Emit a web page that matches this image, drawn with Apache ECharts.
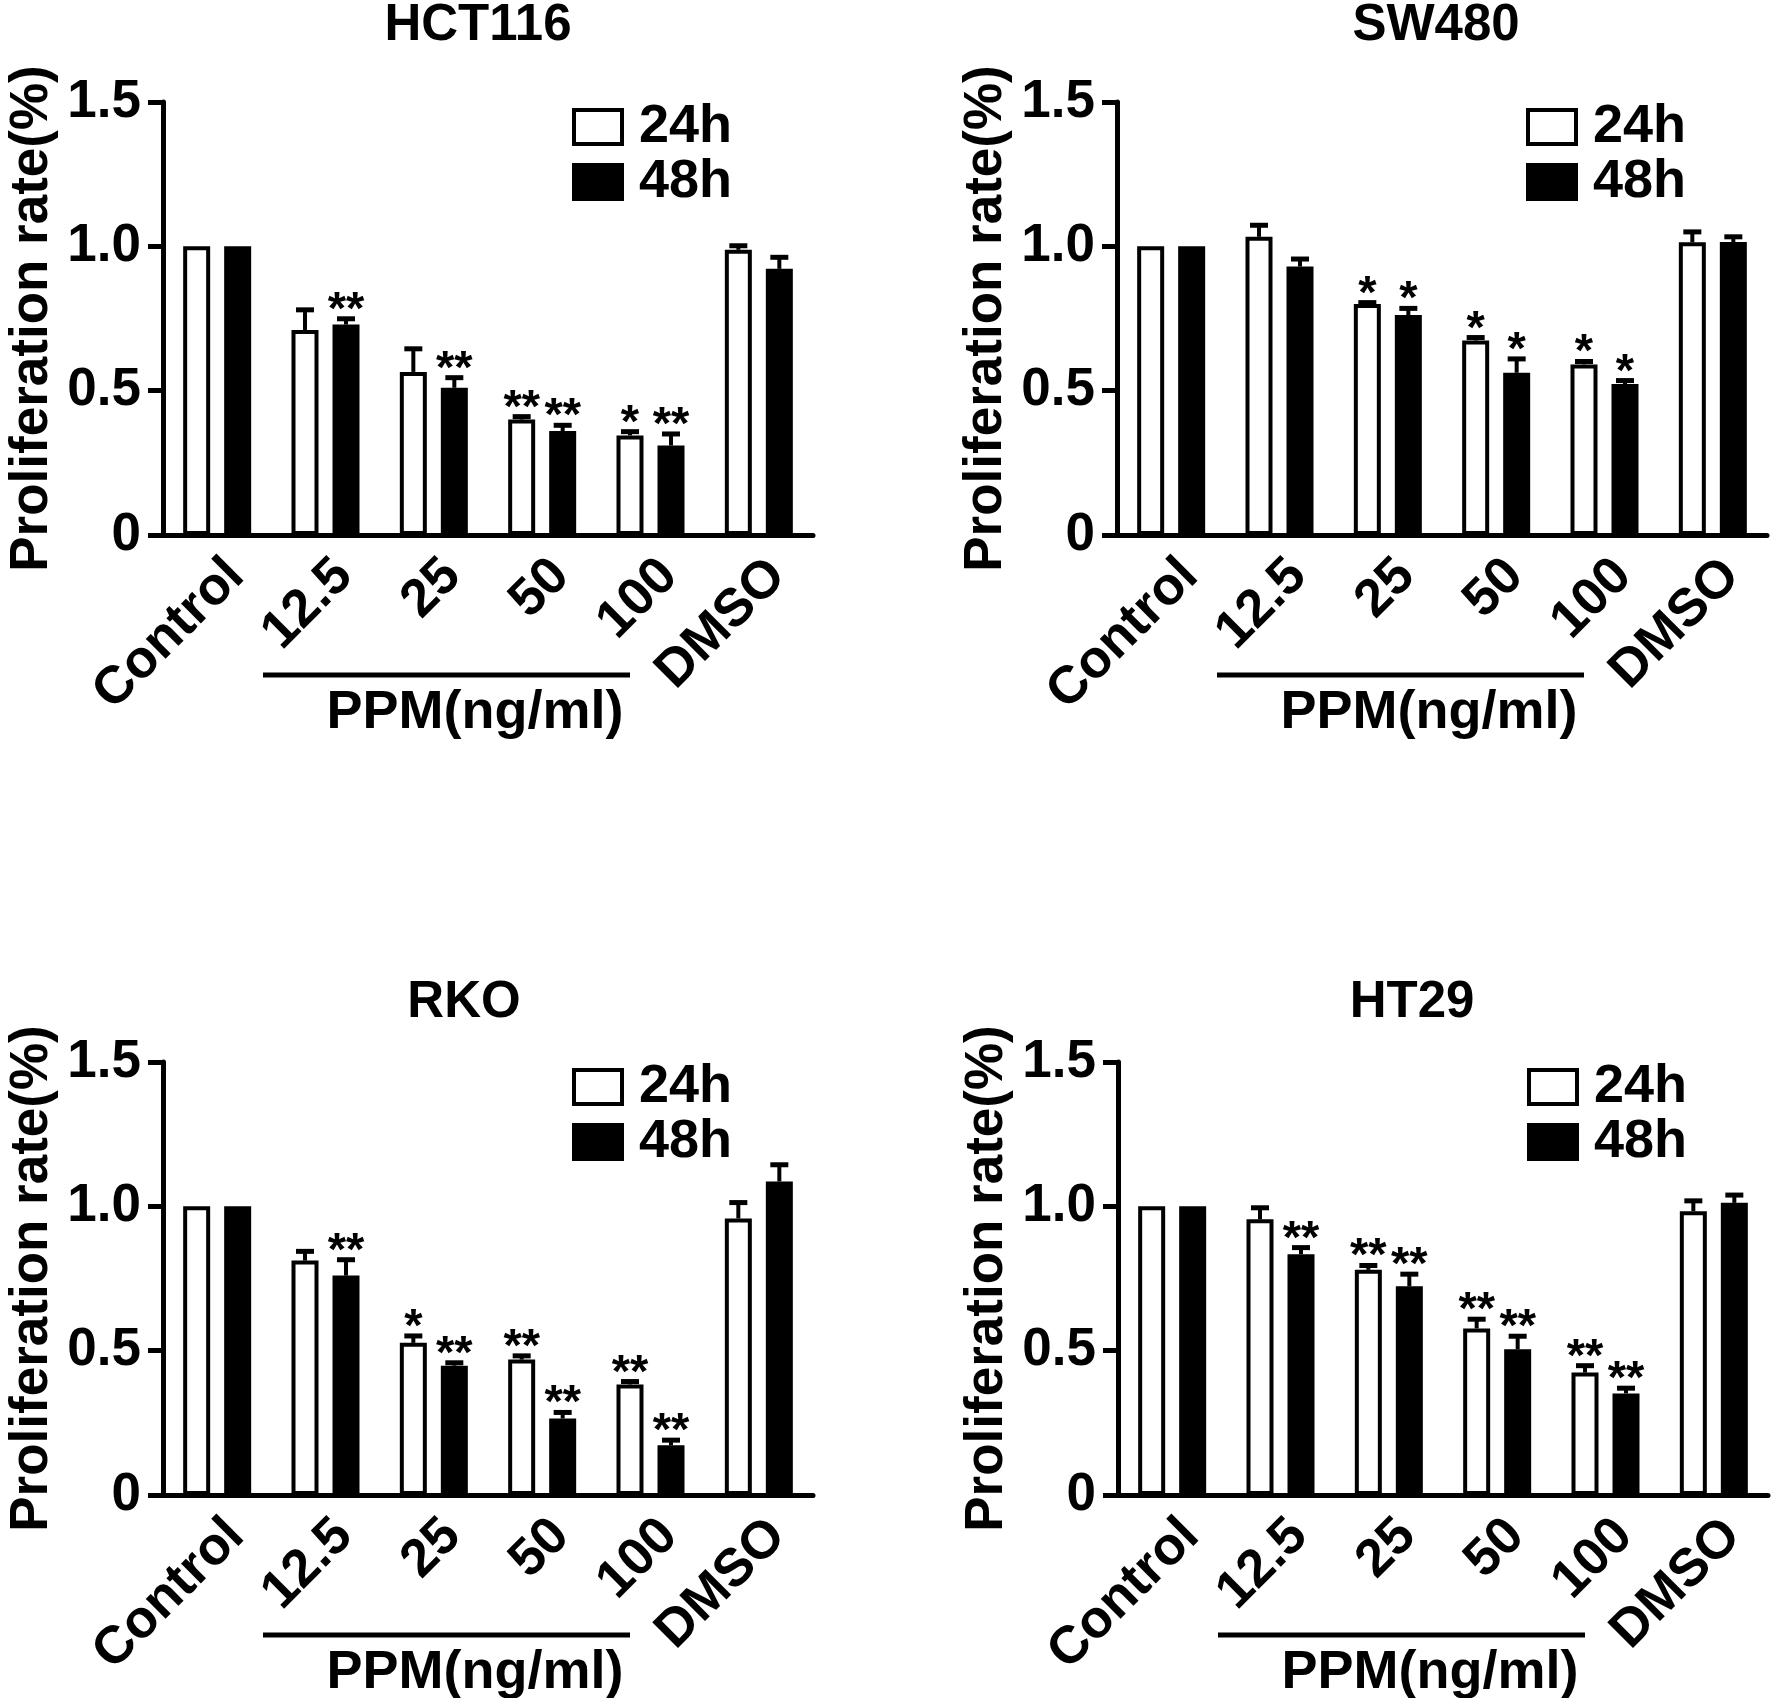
<!DOCTYPE html>
<html>
<head>
<meta charset="utf-8">
<title>Proliferation rate</title>
<script src="https://cdn.jsdelivr.net/npm/echarts@6/dist/echarts.min.js"></script>
<style>
  html, body { margin: 0; padding: 0; background: #fff; }
  #main { width: 1772px; height: 1698px; }
</style>
</head>
<body>
<div id="main"></div>
<script>
// categories and groups
var categories = ['Control', '12.5', '25', '50', '100', 'DMSO'];
var panelTitles = ['HCT116', 'SW480', 'RKO', 'HT29'];
var yTicks = [0, 0.5, 1.0, 1.5];

// HCT116
var hct116_24h = [1.0, 0.71, 0.565, 0.40, 0.345, 0.988];
var hct116_24hErr = [0, 0.07, 0.08, 0.01, 0.013, 0.014];
var hct116_24hSig = ['', '', '', '**', '*', ''];
var hct116_48h = [1.0, 0.729, 0.51, 0.36, 0.31, 0.922];
var hct116_48hErr = [0, 0.02, 0.035, 0.02, 0.04, 0.04];
var hct116_48hSig = ['', '**', '**', '**', '**', ''];

// SW480
var sw480_24h = [1.0, 1.033, 0.80, 0.674, 0.591, 1.014];
var sw480_24hErr = [0, 0.04, 0.005, 0.01, 0.01, 0.036];
var sw480_24hSig = ['', '', '*', '*', '*', ''];
var sw480_48h = [1.0, 0.93, 0.762, 0.562, 0.523, 1.015];
var sw480_48hErr = [0, 0.026, 0.023, 0.048, 0.012, 0.018];
var sw480_48hSig = ['', '', '*', '*', '*', ''];

// RKO
var rko_24h = [1.0, 0.812, 0.527, 0.469, 0.383, 0.958];
var rko_24hErr = [0, 0.032, 0.024, 0.013, 0.01, 0.055];
var rko_24hSig = ['', '', '*', '**', '**', ''];
var rko_48h = [1.0, 0.76, 0.448, 0.265, 0.172, 1.086];
var rko_48hErr = [0, 0.055, 0.01, 0.021, 0.018, 0.058];
var rko_48hSig = ['', '**', '**', '**', '**', ''];

// HT29
var ht29_24h = [1.0, 0.955, 0.78, 0.577, 0.424, 0.983];
var ht29_24hErr = [0, 0.04, 0.015, 0.032, 0.024, 0.036];
var ht29_24hSig = ['', '', '**', '**', '**', ''];
var ht29_48h = [1.0, 0.834, 0.723, 0.505, 0.352, 1.012];
var ht29_48hErr = [0, 0.023, 0.042, 0.045, 0.018, 0.027];
var ht29_48hSig = ['', '**', '**', '**', '**', ''];

var panels = [
  { v24: hct116_24h, e24: hct116_24hErr, s24: hct116_24hSig, v48: hct116_48h, e48: hct116_48hErr, s48: hct116_48hSig },
  { v24: sw480_24h, e24: sw480_24hErr, s24: sw480_24hSig, v48: sw480_48h, e48: sw480_48hErr, s48: sw480_48hSig },
  { v24: rko_24h, e24: rko_24hErr, s24: rko_24hSig, v48: rko_48h, e48: rko_48hErr, s48: rko_48hSig },
  { v24: ht29_24h, e24: ht29_24hErr, s24: ht29_24hSig, v48: ht29_48h, e48: ht29_48hErr, s48: ht29_48hSig }
];

// layout (px)
var FONT = '"Liberation Sans", Arial, sans-serif';
var boxes = [
  { left: 163, top: 102, titleX: 478, titleY: 26 },
  { left: 1117, top: 102, titleX: 1436, titleY: 26 },
  { left: 163, top: 1062, titleX: 464, titleY: 1003 },
  { left: 1118, top: 1062, titleX: 1412, titleY: 1003 }
];
var GW = 650, GH = 433;
var BAR_W = 27, BAR_GAP = 14;
var OFFSET = (BAR_W + BAR_GAP) / 2;

function errRender(vals, errs, sig, dx) {
  return function (params, api) {
    var i = params.dataIndex;
    var v = vals[i], e = errs[i];
    var base = api.coord([i, v]);
    var top = api.coord([i, v + e]);
    var cx = base[0] + dx;
    var kids = [];
    if (e > 0) {
      kids.push({ type: 'line', shape: { x1: cx, y1: base[1], x2: cx, y2: top[1] },
        style: { stroke: '#000', lineWidth: 4 } });
      kids.push({ type: 'line', shape: { x1: cx - 9, y1: top[1], x2: cx + 9, y2: top[1] },
        style: { stroke: '#000', lineWidth: 5 } });
    }
    if (sig[i]) {
      kids.push({ type: 'text', x: cx, y: top[1] - 8,
        style: { text: sig[i], fill: '#000', font: 'bold 47px ' + FONT,
          textAlign: 'center', textVerticalAlign: 'middle' } });
    }
    return { type: 'group', children: kids };
  };
}

var option = {
  backgroundColor: '#fff',
  animation: false,
  grid: [], xAxis: [], yAxis: [], series: [], legend: [], graphic: []
};

panels.forEach(function (p, k) {
  var b = boxes[k];
  option.grid.push({ left: b.left, top: b.top, width: GW, height: GH, containLabel: false });
  option.xAxis.push({
    type: 'category', gridIndex: k, data: categories,
    axisLine: { lineStyle: { color: '#000', width: 5 } },
    axisTick: { alignWithLabel: true, length: 18, lineStyle: { color: '#000', width: 5 } },
    axisLabel: { interval: 0, rotate: 45, margin: 14, verticalAlign: 'top', color: '#000',
      fontSize: 53, fontWeight: 'bold', fontFamily: FONT }
  });
  option.yAxis.push({
    type: 'value', gridIndex: k, min: 0, max: 1.5, interval: 0.5,
    name: 'Proliferation rate(%)', nameLocation: 'middle', nameGap: 104,
    nameTextStyle: { color: '#000', fontSize: 53, fontWeight: 'bold', fontFamily: FONT },
    axisLine: { show: true, lineStyle: { color: '#000', width: 5 } },
    axisTick: { show: true, length: 15, lineStyle: { color: '#000', width: 5 } },
    splitLine: { show: false },
    axisLabel: { margin: 22, color: '#000', fontSize: 53, fontWeight: 'bold', fontFamily: FONT,
      formatter: function (v) { return v === 0 ? '0' : v.toFixed(1); } }
  });
  option.series.push({
    name: '24h', type: 'bar', xAxisIndex: k, yAxisIndex: k, data: p.v24,
    barWidth: BAR_W, barGap: (BAR_GAP / BAR_W * 100) + '%',
    itemStyle: { color: '#fff', borderColor: '#000', borderWidth: 4 }
  });
  option.series.push({
    name: '48h', type: 'bar', xAxisIndex: k, yAxisIndex: k, data: p.v48,
    barWidth: BAR_W,
    itemStyle: { color: '#000', borderColor: '#000', borderWidth: 4 }
  });
  option.series.push({
    name: 'err24', type: 'custom', xAxisIndex: k, yAxisIndex: k, z: 5,
    data: p.v24.map(function (v, i) { return [i, v]; }),
    renderItem: errRender(p.v24, p.e24, p.s24, -OFFSET)
  });
  option.series.push({
    name: 'err48', type: 'custom', xAxisIndex: k, yAxisIndex: k, z: 5,
    data: p.v48.map(function (v, i) { return [i, v]; }),
    renderItem: errRender(p.v48, p.e48, p.s48, OFFSET)
  });
  option.legend.push({
    data: ['24h', '48h'], orient: 'vertical', left: b.left + 409, top: b.top - 2,
    padding: 0, itemGap: 1, itemWidth: 48, itemHeight: 34, icon: 'rect',
    itemStyle: { borderWidth: 4 },
    textStyle: { color: '#000', fontSize: 54, fontWeight: 'bold', fontFamily: FONT,
      lineHeight: 36, padding: [0, 0, 0, 12] },
    selectedMode: false
  });
  option.graphic.push({
    type: 'text', x: b.titleX, y: b.titleY,
    style: { text: panelTitles[k], fill: '#000', font: 'bold 51px ' + FONT,
      textAlign: 'center', textVerticalAlign: 'middle' }
  });
  option.graphic.push({
    type: 'line', shape: { x1: b.left + 100, y1: b.top + GH + 140, x2: b.left + 467, y2: b.top + GH + 140 },
    style: { stroke: '#000', lineWidth: 5 }
  });
  option.graphic.push({
    type: 'text', x: b.left + 312, y: b.top + GH + 178,
    style: { text: 'PPM(ng/ml)', fill: '#000', font: 'bold 54px ' + FONT,
      textAlign: 'center', textVerticalAlign: 'middle' }
  });
});

var myChart = echarts.init(document.getElementById('main'));
myChart.setOption(option);
</script>
</body>
</html>
